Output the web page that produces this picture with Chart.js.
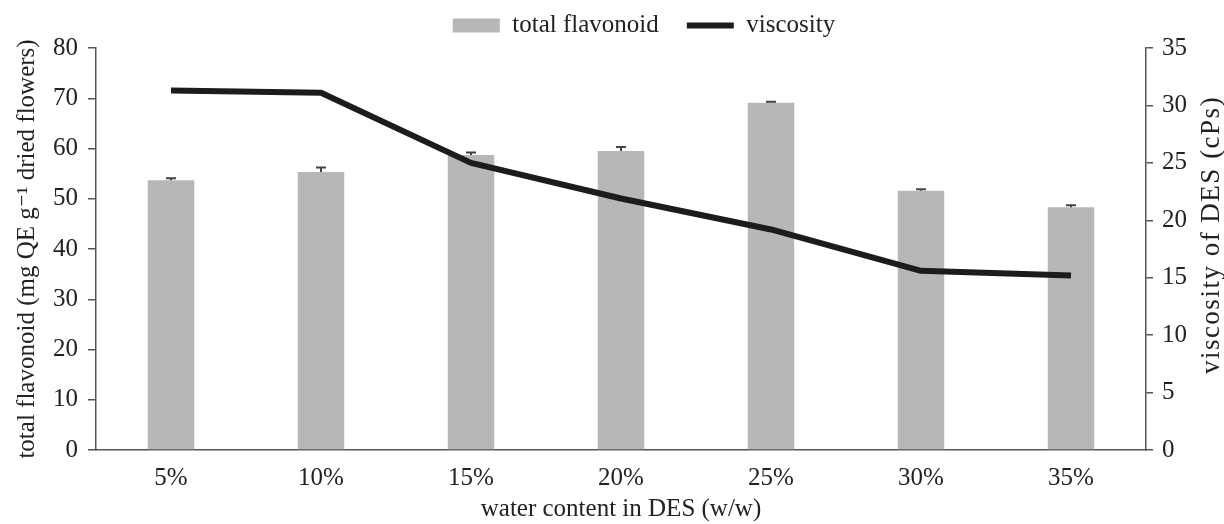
<!DOCTYPE html>
<html>
<head>
<meta charset="utf-8">
<script src="https://cdn.jsdelivr.net/npm/chart.js@4/dist/chart.umd.min.js"></script>
<style>
  html, body { margin: 0; padding: 0; background: #fff; }
  #wrap { width: 1224px; height: 524px; position: relative; }
</style>
</head>
<body>
<div id="wrap"><canvas id="c" width="1224" height="524"></canvas></div>
<script>
// Water content of the deep eutectic solvent (w/w)
const categories = ['5%', '10%', '15%', '20%', '25%', '30%', '35%'];
// Total flavonoid yield, mg QE per g dried flowers
const flavonoid = [53.7, 55.3, 58.7, 59.5, 69.1, 51.6, 48.3];
// Standard deviation of the flavonoid yield
const flavonoidErr = [0.4, 0.9, 0.5, 0.8, 0.2, 0.3, 0.4];
// Viscosity of the DES, cPs
const viscosity = [31.3, 31.1, 25.0, 21.9, 19.2, 15.6, 15.2];
// Axis tick values
const leftTicks = [0, 10, 20, 30, 40, 50, 60, 70, 80];
const rightTicks = [0, 5, 10, 15, 20, 25, 30, 35];

const SERIF = '"Liberation Serif", "DejaVu Serif", "Times New Roman", serif';
const FS = 25;
const INK = '#222';
const AXIS = '#555';
const BAR = '#b7b7b7';
const LINE = '#1c1c1c';
const LEGEND_DX = 32;
const LEGEND_DY = 0;

// Nudge the legend row after layout
const legendNudge = {
  id: 'legendNudge',
  afterUpdate(chart) {
    const lg = chart.legend;
    if (!lg) return;
    lg.top += LEGEND_DY;
    lg.bottom += LEGEND_DY;
    lg.left += LEGEND_DX;
    lg.right += LEGEND_DX;
    (lg.legendHitBoxes || []).forEach(b => { b.top += LEGEND_DY; b.left += LEGEND_DX; });
  }
};

// Error bars on the flavonoid columns
const errorBars = {
  id: 'errorBars',
  afterDatasetDraw(chart, args) {
    if (args.index !== 0) return;
    const y = chart.scales.y;
    const ctx = chart.ctx;
    ctx.save();
    ctx.strokeStyle = '#444';
    ctx.lineWidth = 2;
    args.meta.data.forEach((bar, i) => {
      const v = flavonoid[i], e = flavonoidErr[i];
      const top = y.getPixelForValue(v + e);
      const base = y.getPixelForValue(v);
      ctx.beginPath();
      ctx.moveTo(bar.x, base);
      ctx.lineTo(bar.x, top);
      ctx.moveTo(bar.x - 5, top);
      ctx.lineTo(bar.x + 5, top);
      ctx.stroke();
    });
    ctx.restore();
  }
};

// Right axis title reading bottom-to-top, like the left one
const rightTitle = {
  id: 'rightTitle',
  afterDraw(chart) {
    const s = chart.scales.y1;
    const ctx = chart.ctx;
    ctx.save();
    ctx.letterSpacing = '1.5px';
    ctx.translate(s.right - 12, (chart.chartArea.top + chart.chartArea.bottom) / 2 - 14);
    ctx.rotate(-Math.PI / 2);
    ctx.fillStyle = INK;
    ctx.font = '27px ' + SERIF;
    ctx.textAlign = 'center';
    ctx.textBaseline = 'middle';
    ctx.fillText('viscosity of DES (cPs)', 0, 0);
    ctx.restore();
  }
};

new Chart(document.getElementById('c'), {
  data: {
    labels: categories,
    datasets: [
      {
        type: 'bar',
        label: 'total flavonoid',
        data: flavonoid,
        yAxisID: 'y',
        backgroundColor: BAR,
        borderWidth: 0,
        categoryPercentage: 1,
        barPercentage: 0.31,
        order: 1
      },
      {
        type: 'line',
        label: 'viscosity',
        data: viscosity,
        yAxisID: 'y1',
        borderColor: LINE,
        backgroundColor: LINE,
        borderWidth: 6,
        pointRadius: 0,
        tension: 0,
        borderCapStyle: 'butt',
        borderJoinStyle: 'round',
        order: 0
      }
    ]
  },
  options: {
    responsive: false,
    animation: false,
    devicePixelRatio: 1,
    layout: { padding: { top: -15, left: 0, right: 0, bottom: 0 } },
    plugins: {
      tooltip: { enabled: false },
      legend: {
        position: 'top',
        align: 'center',
        labels: {
          usePointStyle: true,
          pointStyleWidth: 47,
          boxHeight: 14,
          padding: 28,
          color: INK,
          font: { family: SERIF, size: FS },
          generateLabels(chart) {
            const ds = chart.data.datasets;
            return [
              { text: ds[0].label, fillStyle: BAR, strokeStyle: BAR, lineWidth: 0,
                pointStyle: 'rect', datasetIndex: 0, fontColor: INK },
              { text: ds[1].label, fillStyle: LINE, strokeStyle: LINE, lineWidth: 6,
                pointStyle: 'line', datasetIndex: 1, fontColor: INK }
            ];
          }
        }
      }
    },
    scales: {
      x: {
        grid: { display: false, drawTicks: false },
        border: { color: AXIS, width: 1.5 },
        ticks: { color: INK, font: { family: SERIF, size: FS }, padding: 13, maxRotation: 0 },
        title: { display: true, text: 'water content in DES (w/w)', color: INK,
                 font: { family: SERIF, size: FS }, padding: { top: 2, bottom: 0 } },
        afterFit(s) { s.height = 74; }
      },
      y: {
        position: 'left',
        min: 0, max: 80,
        afterBuildTicks(s) { s.ticks = leftTicks.map(v => ({ value: v })); },
        grid: { drawOnChartArea: false, drawTicks: true, tickLength: 8, color: AXIS, lineWidth: 1.5 },
        border: { color: AXIS, width: 1.5 },
        ticks: { color: INK, font: { family: SERIF, size: FS }, padding: 10 },
        title: { display: true, text: 'total flavonoid (mg QE g\u207B\u00B9 dried flowers)', color: INK,
                 font: { family: SERIF, size: FS }, padding: { top: 12, bottom: 0 } },
        afterFit(s) { s.width = 96; }
      },
      y1: {
        position: 'right',
        min: 0, max: 35,
        afterBuildTicks(s) { s.ticks = rightTicks.map(v => ({ value: v })); },
        grid: { drawOnChartArea: false, drawTicks: true, tickLength: 7, color: AXIS, lineWidth: 1.5 },
        border: { color: AXIS, width: 1.5 },
        ticks: { color: INK, font: { family: SERIF, size: FS }, padding: 9 },
        afterFit(s) { s.width = 78; }
      }
    }
  },
  plugins: [legendNudge, errorBars, rightTitle]
});
</script>
</body>
</html>
